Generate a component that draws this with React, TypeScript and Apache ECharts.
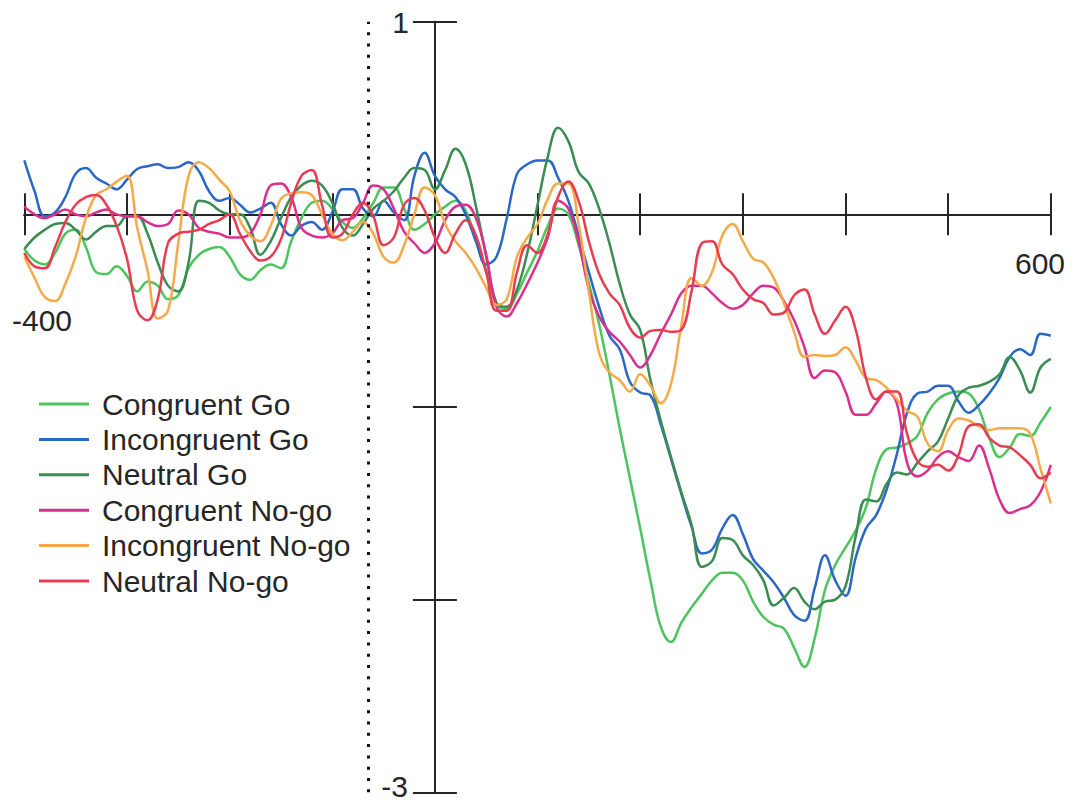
import React, { useEffect, useRef } from 'react';
import * as echarts from 'echarts';

// Sample times (ms) relative to stimulus onset
const times = [
  -400, -390, -380, -370, -360, -350, -340, -330, -320, -310,
  -300, -290, -280, -270, -260, -250, -240, -230, -220, -210,
  -200, -190, -180, -170, -160, -150, -140, -130, -120, -110,
  -100, -90, -80, -70, -60, -50, -40, -30, -20, -10,
  0, 10, 20, 30, 40, 50, 60, 70, 80, 90,
  100, 110, 120, 130, 140, 150, 160, 170, 180, 190,
  200, 210, 220, 230, 240, 250, 260, 270, 280, 290,
  300, 310, 320, 330, 340, 350, 360, 370, 380, 390,
  400, 410, 420, 430, 440, 450, 460, 470, 480, 490,
  500, 510, 520, 530, 540, 550, 560, 570, 580, 590,
  600,
];

// Amplitudes (µV) per condition, one value per sample time
const congruentGo = [
  -0.18, -0.24, -0.26, -0.2, -0.1, -0.08, -0.17, -0.3, -0.31, -0.27,
  -0.32, -0.4, -0.35, -0.37, -0.44, -0.42, -0.28, -0.21, -0.18, -0.17,
  -0.22, -0.31, -0.34, -0.29, -0.26, -0.28, -0.14, -0.02, 0.06, 0.07,
  0.03, -0.04, -0.07, -0.02, 0.06, 0.14, 0.14, 0.03, -0.08, -0.05,
  0.0, 0.04, 0.07, 0.02, -0.14, -0.3, -0.47, -0.49, -0.41, -0.3,
  -0.19, -0.06, 0.03, 0.0, -0.16, -0.36, -0.57, -0.83, -1.11, -1.37,
  -1.63, -1.9, -2.14, -2.22, -2.12, -2.04, -1.97, -1.9, -1.86, -1.86,
  -1.9, -2.01, -2.09, -2.13, -2.15, -2.25, -2.35, -2.2, -1.95, -1.82,
  -1.73, -1.64, -1.52, -1.32, -1.22, -1.21, -1.19, -1.15, -1.03, -0.96,
  -0.93, -0.92, -0.93, -1.01, -1.16, -1.26, -1.21, -1.14, -1.15, -1.08,
  -1.0,
];

const incongruentGo = [
  0.28, 0.12, -0.01, 0.01, 0.09, 0.21, 0.24, 0.19, 0.16, 0.13,
  0.18, 0.235, 0.25, 0.26, 0.24, 0.245, 0.27, 0.225, 0.12, 0.07,
  0.085, 0.05, 0.01, 0.03, 0.06, -0.05, -0.11, -0.06, -0.04, -0.08,
  0.01, 0.13, 0.13, 0.03, -0.01, 0.07, 0.01, -0.03, 0.2, 0.32,
  0.2, 0.13, 0.09, 0.0, -0.14, -0.26, -0.22, -0.02, 0.21, 0.26,
  0.28, 0.28, 0.19, 0.07, -0.11, -0.3, -0.48, -0.63, -0.7, -0.87,
  -0.925, -0.94, -1.09, -1.27, -1.45, -1.62, -1.76, -1.74, -1.63, -1.56,
  -1.66, -1.79, -1.85, -1.91, -1.99, -2.08, -2.11, -1.94, -1.77, -1.9,
  -1.98, -1.78, -1.63, -1.56, -1.43, -1.245, -1.03, -0.93, -0.92, -0.89,
  -0.89, -0.97, -1.03, -0.99, -0.93, -0.85, -0.74, -0.7, -0.73, -0.62,
  -0.63,
];

const neutralGo = [
  -0.18, -0.12, -0.08, -0.05, -0.045, -0.08, -0.13, -0.09, -0.06, -0.06,
  -0.01, -0.01, -0.1, -0.25, -0.37, -0.4, -0.25, 0.07, 0.06, 0.02,
  0.0, 0.0, -0.07, -0.21, -0.14, -0.02, 0.09, 0.15, 0.175, 0.15,
  0.06, -0.07, -0.11, -0.05, 0.03, 0.07, 0.12, 0.19, 0.24, 0.23,
  0.13, 0.23, 0.34, 0.26, 0.04, -0.22, -0.46, -0.48, -0.39, -0.2,
  0.05, 0.3, 0.45, 0.38, 0.22, 0.16, 0.03, -0.15, -0.36, -0.52,
  -0.6, -0.86, -1.07, -1.26, -1.44, -1.61, -1.83, -1.8, -1.68, -1.69,
  -1.77, -1.82, -1.9, -2.03, -1.99, -1.94, -2.01, -2.05, -2.01, -2.0,
  -1.93, -1.67, -1.48, -1.49, -1.4, -1.34, -1.35, -1.29, -1.23, -1.18,
  -1.06, -0.94, -0.9, -0.89, -0.87, -0.83, -0.74, -0.81, -0.925, -0.795,
  -0.75,
];

const congruentNoGo = [
  0.04, 0.0, -0.02, 0.0, 0.025, 0.0, -0.01, 0.01, 0.025, 0.0,
  -0.01, -0.01, -0.04, -0.06, -0.05, 0.02, 0.0, -0.07, -0.09, -0.1,
  -0.12, -0.12, -0.1, 0.0, 0.15, 0.16, 0.09, -0.07, -0.11, -0.12,
  -0.1, -0.03, -0.02, 0.06, 0.15, 0.13, 0.03, -0.09, -0.15, -0.2,
  -0.15, -0.03, 0.04, 0.05, -0.02, -0.21, -0.48, -0.53, -0.46, -0.36,
  -0.25, -0.12, 0.07, 0.03, -0.14, -0.39, -0.53, -0.61, -0.66, -0.73,
  -0.795, -0.73, -0.62, -0.52, -0.41, -0.37, -0.37, -0.41, -0.46, -0.49,
  -0.47, -0.41, -0.37, -0.38, -0.45, -0.55, -0.69, -0.85, -0.81, -0.82,
  -0.92, -1.04, -1.04, -0.98, -0.92, -0.98, -1.29, -1.36, -1.33, -1.26,
  -1.23, -1.26, -1.28, -1.2, -1.32, -1.48, -1.55, -1.53, -1.51, -1.44,
  -1.3,
];

const incongruentNoGo = [
  -0.22, -0.33, -0.43, -0.45, -0.36, -0.22, -0.02, 0.1, 0.13, 0.17,
  0.2, -0.07, -0.29, -0.54, -0.5, -0.15, 0.2, 0.27, 0.24, 0.18,
  0.12, -0.03, -0.11, -0.14, -0.06, 0.08, 0.11, 0.115, 0.1, 0.0,
  -0.1, -0.135, -0.09, -0.04, -0.1, -0.22, -0.25, -0.16, 0.0, 0.14,
  0.1, -0.05, -0.14, -0.2, -0.28, -0.38, -0.47, -0.44, -0.22, -0.12,
  -0.05, 0.08, 0.16, 0.16, -0.05, -0.4, -0.72, -0.82, -0.86, -0.92,
  -0.83, -0.89, -0.98, -0.88, -0.58, -0.33, -0.37, -0.3, -0.11, -0.05,
  -0.14, -0.23, -0.25, -0.33, -0.46, -0.61, -0.74, -0.73, -0.735, -0.73,
  -0.69, -0.76, -0.85, -0.86, -0.9, -0.96, -1.02, -1.05, -1.19, -1.23,
  -1.12, -1.06, -1.07, -1.1, -1.12, -1.11, -1.11, -1.11, -1.14, -1.32,
  -1.5,
];

const neutralNoGo = [
  -0.2, -0.27, -0.28, -0.17, -0.04, 0.05, 0.09, 0.1, 0.05, -0.06,
  -0.23, -0.5, -0.55, -0.44, -0.15, -0.1, -0.09, -0.08, -0.05, -0.03,
  0.0, -0.1, -0.19, -0.24, -0.22, -0.13, 0.06, 0.2, 0.23, 0.05,
  -0.12, -0.1, 0.0, 0.06, -0.01, -0.16, -0.12, 0.05, 0.085, 0.02,
  -0.12, -0.2, -0.1, -0.03, -0.11, -0.3, -0.5, -0.5, -0.3, -0.16,
  -0.2, -0.1, 0.09, 0.17, 0.07, -0.14, -0.31, -0.41, -0.47, -0.59,
  -0.64, -0.605, -0.6, -0.61, -0.6, -0.4, -0.15, -0.14, -0.26, -0.31,
  -0.39, -0.44, -0.46, -0.52, -0.51, -0.42, -0.39, -0.52, -0.62, -0.55,
  -0.48, -0.6, -0.85, -0.96, -0.92, -0.92, -1.14, -1.28, -1.31, -1.3,
  -1.33, -1.25, -1.1, -1.09, -1.16, -1.2, -1.21, -1.25, -1.3, -1.37,
  -1.34,
];

const conditionNames = [
  'Congruent Go',
  'Incongruent Go',
  'Neutral Go',
  'Congruent No-go',
  'Incongruent No-go',
  'Neutral No-go',
];
const conditionValues = [congruentGo, incongruentGo, neutralGo, congruentNoGo, incongruentNoGo, neutralNoGo];
const conditionColors = ['#4cc55e', '#2a67c6', '#3a8c52', '#dc2e8e', '#f4aa48', '#e83c52'];

// Time axis range and amplitude range
const timeRange = [-400, 600];
const amplitudeRange = [-3, 1];
// Dotted reference line (ms)
const referenceTime = -65;

const fontFamily = "'Liberation Sans', Arial, Helvetica, sans-serif";
const axisColor = '#262626';
const textColor = '#262626';

export default function App() {
  const ref = useRef<HTMLDivElement>(null);

  useEffect(() => {
    if (!ref.current) return;
    const chart = echarts.init(ref.current, null, { renderer: 'svg' });

    const axisLine = (index: number) => ({
      show: true,
      onZero: true,
      onZeroAxisIndex: index,
      lineStyle: { color: axisColor, width: 2 },
    });

    const tick = (len: number) => ({
      show: true,
      inside: false,
      length: len,
      lineStyle: { color: axisColor, width: 2 },
    });

    const xAxisBase = (index: number, position: string) => ({
      type: 'value',
      min: timeRange[0],
      max: timeRange[1],
      interval: 100,
      position,
      axisLine: axisLine(index),
      axisTick: tick(21),
      axisLabel: { show: false },
      splitLine: { show: false },
    });

    const yAxisBase = (index: number, position: string) => ({
      type: 'value',
      min: amplitudeRange[0],
      max: amplitudeRange[1],
      interval: 1,
      position,
      axisLine: axisLine(index),
      axisTick: tick(22),
      axisLabel: { show: false },
      splitLine: { show: false },
    });

    const series = conditionNames.map((name, i) => ({
      name,
      type: 'line',
      xAxisIndex: 0,
      yAxisIndex: 0,
      data: times.map((t, k) => [t, conditionValues[i][k]]),
      smooth: 0.4,
      showSymbol: false,
      symbol: 'none',
      lineStyle: { color: conditionColors[i], width: 2.5 },
      itemStyle: { color: conditionColors[i] },
      z: 3,
      silent: true,
      ...(i === 0
        ? {
            markLine: {
              silent: true,
              symbol: ['none', 'none'],
              label: { show: false },
              lineStyle: { type: [3, 8.3], color: '#111', width: 3 },
              data: [{ xAxis: referenceTime }],
            },
          }
        : {}),
    }));

    const label = (text: string, x: number, y: number, align: string) => ({
      type: 'text',
      x,
      y,
      silent: true,
      style: {
        text,
        fontSize: 30,
        fontFamily,
        fill: textColor,
        align,
        verticalAlign: 'middle',
      },
    });

    chart.setOption({
      animation: false,
      backgroundColor: '#ffffff',
      grid: {
        left: 24.3,
        top: 21.7,
        width: 1026.5,
        height: 770.6,
        containLabel: false,
        outerBoundsMode: 'none',
      },
      xAxis: [xAxisBase(0, 'bottom'), xAxisBase(1, 'top')],
      yAxis: [yAxisBase(0, 'left'), yAxisBase(1, 'right')],
      legend: {
        orient: 'vertical',
        left: 39,
        top: 389,
        padding: 0,
        itemGap: 5.4,
        itemWidth: 50,
        itemHeight: 3,
        icon: 'rect',
        selectedMode: false,
        data: conditionNames,
        formatter: (name: string) => `{n|${name}}`,
        textStyle: {
          rich: {
            n: {
              fontSize: 30,
              fontFamily,
              color: textColor,
              padding: [0, 0, 0, 8],
              lineHeight: 30,
            },
          },
        },
      },
      graphic: [
        label(String(amplitudeRange[1]), 409, 22, 'right'),
        label(String(amplitudeRange[0]), 408, 786, 'right'),
        label(String(timeRange[0]), 12, 320, 'left'),
        label(String(timeRange[1]), 1015, 263, 'left'),
      ],
      series,
    });

    return () => chart.dispose();
  }, []);

  return (
    <div
      ref={ref}
      style={{ position: 'fixed', left: 0, top: 0, width: 1078, height: 802, background: '#fff' }}
    />
  );
}
